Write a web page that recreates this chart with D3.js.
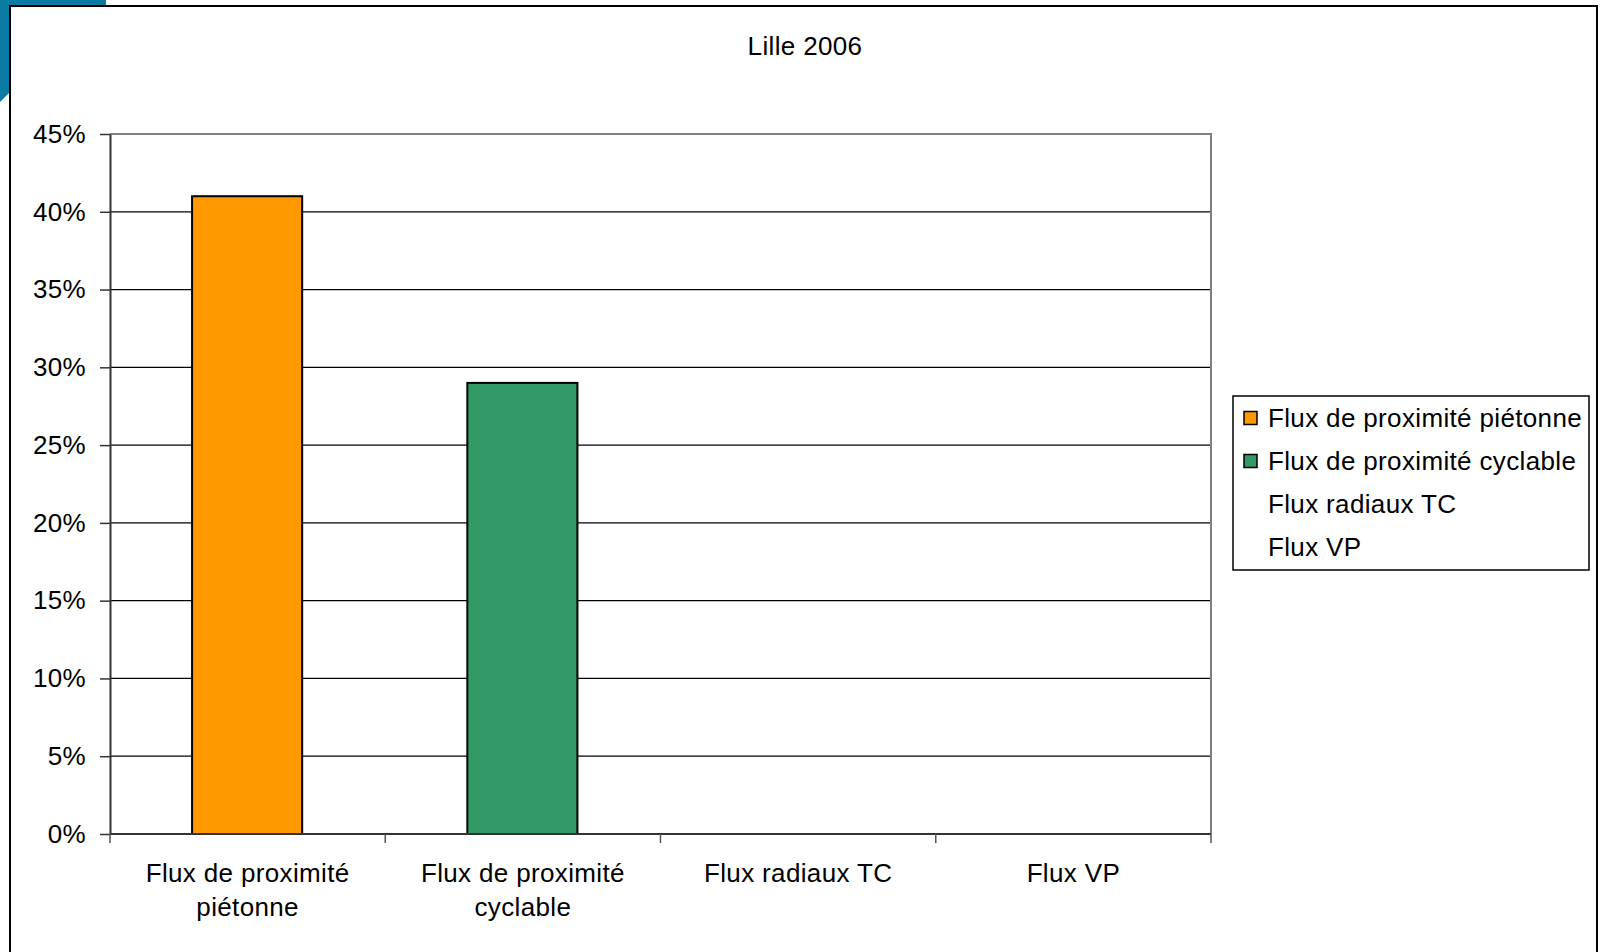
<!DOCTYPE html>
<html>
<head>
<meta charset="utf-8">
<script src="https://cdn.jsdelivr.net/npm/d3@7/dist/d3.min.js"></script>
<style>
  html, body { margin: 0; padding: 0; background: #fff; }
  svg { display: block; font-family: "Liberation Sans", Arial, sans-serif; }
  svg text { letter-spacing: 0.35px; }
</style>
</head>
<body>
<svg id="chart" width="1600" height="952"></svg>
<script>
// Data
const title = "Lille 2006";
const categories = [
  "Flux de proximité piétonne",
  "Flux de proximité cyclable",
  "Flux radiaux TC",
  "Flux VP"
];
const axisLabels = [
  ["Flux de proximité", "piétonne"],
  ["Flux de proximité", "cyclable"],
  ["Flux radiaux TC"],
  ["Flux VP"]
];
const shares = [0.41, 0.29, null, null];
const barColors = ["#FF9900", "#339966", null, null];
const yTicks = [0, 0.05, 0.10, 0.15, 0.20, 0.25, 0.30, 0.35, 0.40, 0.45];
const yTickLabels = ["0%", "5%", "10%", "15%", "20%", "25%", "30%", "35%", "40%", "45%"];

const svg = d3.select("#chart");
const fontSize = 26;

// Slide decoration behind the chart frame
svg.append("path")
  .attr("d", "M0,0 L106,0 L106,12 L12,90 L0,102 Z")
  .attr("fill", "#0A7BA3");

// Chart frame
svg.append("rect")
  .attr("x", 10).attr("y", 6)
  .attr("width", 1587).attr("height", 960)
  .attr("fill", "#fff")
  .attr("stroke", "#000")
  .attr("stroke-width", 2);

// Title
svg.append("text")
  .attr("x", 805).attr("y", 55)
  .attr("text-anchor", "middle")
  .attr("font-size", fontSize)
  .attr("fill", "#000")
  .text(title);

// Plot area
const plot = { left: 110, right: 1211, top: 134, bottom: 834 };

const x = d3.scaleBand()
  .domain(categories)
  .range([plot.left, plot.right])
  .padding(0);

const y = d3.scaleLinear()
  .domain([0, 0.45])
  .range([plot.bottom, plot.top]);

// Horizontal gridlines
svg.append("g")
  .selectAll("line")
  .data(yTicks.filter(t => t > 0 && t < 0.45))
  .join("line")
  .attr("x1", plot.left).attr("x2", plot.right)
  .attr("y1", d => y(d)).attr("y2", d => y(d))
  .attr("stroke", "#000")
  .attr("stroke-width", 1.2);

// Plot border (top and right)
svg.append("path")
  .attr("d", `M${plot.left},${y(0.45)} H${plot.right} V${plot.bottom}`)
  .attr("fill", "none")
  .attr("stroke", "#808080")
  .attr("stroke-width", 2);

// Bars
const barWidth = x.bandwidth() * 0.4;
svg.append("g")
  .selectAll("rect")
  .data(categories.map((c, i) => ({ c, v: shares[i], color: barColors[i] })).filter(d => d.v != null))
  .join("rect")
  .attr("x", d => x(d.c) + (x.bandwidth() - barWidth) / 2 - 0.5)
  .attr("y", d => y(d.v))
  .attr("width", barWidth)
  .attr("height", d => y(0) - y(d.v))
  .attr("fill", d => d.color)
  .attr("stroke", "#000")
  .attr("stroke-width", 2);

// Y axis
const yAxis = d3.axisLeft(y)
  .tickValues(yTicks)
  .tickFormat((d, i) => yTickLabels[i])
  .tickSizeInner(10)
  .tickSizeOuter(0)
  .tickPadding(14);

const gy = svg.append("g")
  .attr("transform", `translate(${plot.left},0)`)
  .call(yAxis);
gy.select(".domain").attr("stroke", "#333").attr("stroke-width", 2);
gy.selectAll(".tick line").attr("stroke", "#333").attr("stroke-width", 1.5);
gy.selectAll(".tick text")
  .attr("font-size", fontSize)
  .attr("font-family", "Liberation Sans, Arial, sans-serif")
  .attr("fill", "#000");

// X axis: ticks on category boundaries
const boundaries = categories.map(c => x(c)).concat([plot.right]);
const gx = svg.append("g");
gx.append("line")
  .attr("x1", plot.left).attr("x2", plot.right)
  .attr("y1", y(0)).attr("y2", y(0))
  .attr("stroke", "#333").attr("stroke-width", 2);
gx.selectAll("line.tick")
  .data(boundaries)
  .join("line")
  .attr("class", "tick")
  .attr("x1", d => d).attr("x2", d => d)
  .attr("y1", y(0)).attr("y2", y(0) + 9)
  .attr("stroke", "#555").attr("stroke-width", 1.5);

const labels = gx.selectAll("text")
  .data(categories)
  .join("text")
  .attr("x", d => x(d) + x.bandwidth() / 2)
  .attr("y", 882)
  .attr("text-anchor", "middle")
  .attr("font-size", fontSize)
  .attr("fill", "#000");
labels.each(function (d, i) {
  const t = d3.select(this);
  axisLabels[i].forEach((line, j) => {
    t.append("tspan")
      .attr("x", x(d) + x.bandwidth() / 2)
      .attr("dy", j === 0 ? 0 : 34)
      .text(line);
  });
});

// Legend
const legend = svg.append("g");
legend.append("rect")
  .attr("x", 1233).attr("y", 396)
  .attr("width", 356).attr("height", 174)
  .attr("fill", "#fff")
  .attr("stroke", "#000")
  .attr("stroke-width", 1.5);

const rows = legend.selectAll("g.row")
  .data(categories.map((c, i) => ({ c, color: barColors[i] })))
  .join("g")
  .attr("class", "row")
  .attr("transform", (d, i) => `translate(0, ${418 + i * 43})`);

rows.filter(d => d.color)
  .append("rect")
  .attr("x", 1244).attr("y", -6.5)
  .attr("width", 13).attr("height", 13)
  .attr("fill", d => d.color)
  .attr("stroke", "#000")
  .attr("stroke-width", 1.5);

rows.append("text")
  .attr("x", 1268).attr("y", 9)
  .attr("font-size", fontSize)
  .attr("fill", "#000")
  .text(d => d.c);
</script>
</body>
</html>
